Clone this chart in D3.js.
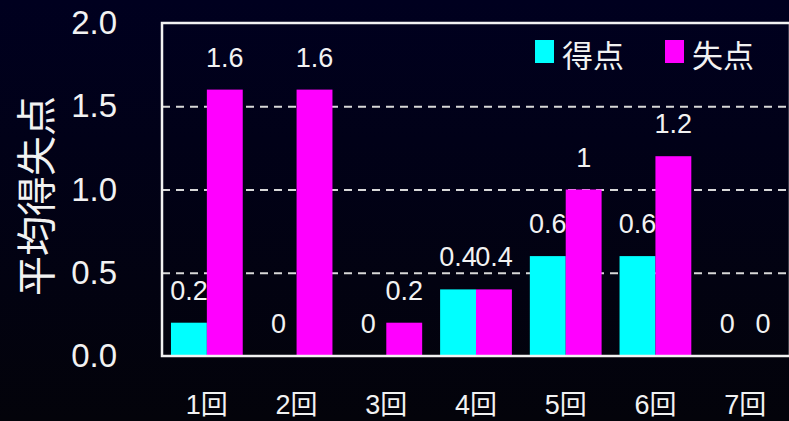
<!DOCTYPE html>
<html><head><meta charset="utf-8">
<script src="https://cdn.jsdelivr.net/npm/d3@7/dist/d3.min.js"></script>
<style>
html,body{margin:0;padding:0;background:#000010;}
svg{display:block;}
text{font-family:"Liberation Sans","Noto Sans CJK JP",sans-serif;fill:#f2f2f2;}
</style></head>
<body>
<svg id="chart" width="789" height="421"></svg>
<script>
const categories = ["1回","2回","3回","4回","5回","6回","7回"];
const seriesNames = ["得点","失点"];
const scored = [0.2, 0, 0, 0.4, 0.6, 0.6, 0];
const conceded = [1.6, 1.6, 0.2, 0.4, 1, 1.2, 0];
const yTicks = [0, 0.5, 1.0, 1.5, 2.0];
const colors = ["#00FFFF", "#FF00FF"];
const yTitle = "平均得失点";

const W = 789, H = 421;
const m = {left: 162, top: 23, right: 790, bottom: 356};
const svg = d3.select("#chart");

const defs = svg.append("defs");
const grad = defs.append("linearGradient").attr("id","bg").attr("x1",0).attr("y1",0).attr("x2",0).attr("y2",1);
grad.append("stop").attr("offset","0%").attr("stop-color","#00001f");
grad.append("stop").attr("offset","100%").attr("stop-color","#03030a");
svg.append("rect").attr("width",W).attr("height",H).attr("fill","url(#bg)");

const x0 = d3.scaleBand().domain(categories).range([m.left, m.right]).paddingInner(0.2).paddingOuter(0.1);
const x1 = d3.scaleBand().domain(seriesNames).range([0, x0.bandwidth()]);
const y = d3.scaleLinear().domain([0, 2]).range([m.bottom, m.top]);

// gridlines
const grid = svg.append("g").attr("transform", `translate(${m.left},0)`)
  .call(d3.axisLeft(y).tickValues(yTicks.filter(t => t > 0 && t < 2)).tickSize(-(m.right - m.left)).tickFormat(""));
grid.select(".domain").remove();
grid.selectAll("line").attr("stroke","#d8d8d8").attr("stroke-width",2).attr("stroke-dasharray","8,6");

// bars
const data = categories.map((c,i) => ({c, vals:[scored[i], conceded[i]]}));
const groups = svg.append("g").selectAll("g").data(data).join("g")
  .attr("transform", d => `translate(${x0(d.c)},0)`);
groups.selectAll("rect").data(d => d.vals.map((v,j) => ({v, s: seriesNames[j], j})))
  .join("rect")
  .attr("x", d => x1(d.s)).attr("width", x1.bandwidth())
  .attr("y", d => y(d.v)).attr("height", d => y(0) - y(d.v))
  .attr("fill", d => colors[d.j]);
groups.selectAll("text").data(d => d.vals.map((v,j) => ({v, s: seriesNames[j], j})))
  .join("text")
  .attr("x", d => x1(d.s) + x1.bandwidth()/2)
  .attr("y", d => y(d.v) - 32)
  .attr("text-anchor","middle").attr("dominant-baseline","central")
  .attr("font-size", 27)
  .text(d => d3.format("")(d.v));

// frame
svg.append("rect").attr("x", m.left).attr("y", m.top).attr("width", m.right - m.left).attr("height", m.bottom - m.top)
  .attr("fill","none").attr("stroke","#f2f2f2").attr("stroke-width",2.5);

// y axis labels
const yAx = svg.append("g").attr("transform", `translate(${m.left},0)`)
  .call(d3.axisLeft(y).tickValues(yTicks).tickSize(0).tickPadding(45).tickFormat(d3.format(".1f")));
yAx.select(".domain").remove();
yAx.selectAll("text").attr("font-size", 33).attr("fill","#f2f2f2")
  .style("font-family",'"Liberation Sans","Noto Sans CJK JP",sans-serif');

// x axis labels
const xAx = svg.append("g").attr("transform", `translate(0,${m.bottom})`)
  .call(d3.axisBottom(x0).tickSize(0).tickPadding(0));
xAx.select(".domain").remove();
xAx.selectAll("text").attr("font-size", 27).attr("fill","#f2f2f2")
  .attr("dy", null).attr("y", 49).attr("dominant-baseline","central")
  .style("font-family",'"Liberation Sans","Noto Sans CJK JP",sans-serif');

// y title
svg.append("text").attr("transform","translate(37,196) rotate(-90)")
  .attr("text-anchor","middle").attr("dominant-baseline","central")
  .attr("font-size", 40).text(yTitle);

// legend
const leg = svg.append("g");
const legX = [535, 665];
seriesNames.forEach((s,i) => {
  leg.append("rect").attr("x", legX[i]).attr("y", 40).attr("width", 19).attr("height", 23).attr("fill", colors[i]);
  leg.append("text").attr("x", legX[i] + 27).attr("y", 56).attr("dominant-baseline","central")
    .attr("font-size", 31).text(s);
});
</script>
</body></html>
